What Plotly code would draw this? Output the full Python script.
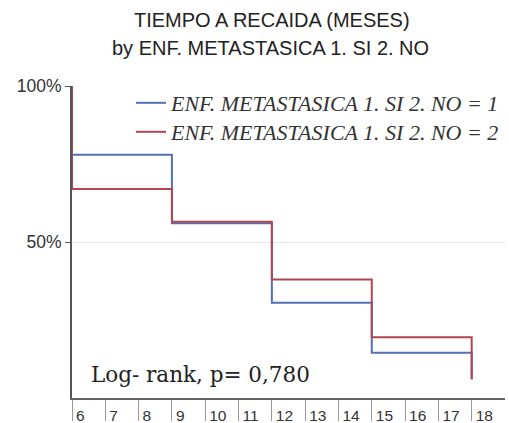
import plotly.graph_objects as go

months = [6, 9, 12, 15, 18]
surv_1 = [78, 56, 30.5, 14.5, 6]   # ENF = 1 (blue)
surv_2 = [67, 56.5, 38, 19.5, 6]   # ENF = 2 (red)
xtick_vals = list(range(6, 19))
xtick_text = [str(v) for v in xtick_vals]
ytick_vals = [50, 100]
ytick_text = ["50%", "100%"]
legend_names = ["ENF. METASTASICA 1. SI 2. NO = 1", "ENF. METASTASICA 1. SI 2. NO = 2"]
colors = ["#5270b2", "#b04650"]
title_1 = "TIEMPO A RECAIDA (MESES)"
title_2 = "by ENF. METASTASICA 1. SI 2. NO"
logrank = "Log- rank, p= 0,780"

def step(vals):
    xs = [months[0]]
    ys = [100]
    prev = 100
    for i, m in enumerate(months):
        xs += [m, m]
        ys += [prev, vals[i]]
        prev = vals[i]
    return xs, ys

fig = go.Figure()
for k, (vals, name, col) in enumerate(zip([surv_1, surv_2], legend_names, colors)):
    xs, ys = step(vals)
    fig.add_trace(go.Scatter(x=xs, y=ys, mode="lines", name=name,
                             legend="legend" if k == 0 else "legend2",
                             line=dict(color=col, width=2)))

# invisible trace for the label axis
fig.add_trace(go.Scatter(x=[6], y=[0], xaxis="x2", mode="markers",
                         marker=dict(opacity=0), showlegend=False, hoverinfo="skip"))

sans = "Liberation Sans, Arial"
leg_font = dict(family="Liberation Serif, Times New Roman", size=22,
                color="#333", style="italic")
fig.update_layout(
    width=509, height=423,
    margin=dict(l=72, r=4, t=86, b=25),
    paper_bgcolor="white", plot_bgcolor="white",
    title=dict(text=title_1, x=0.534, xanchor="center", y=1 - 20 / 423, yref="container",
               yanchor="middle", font=dict(family=sans, size=20, color="#222")),
    xaxis=dict(range=[6, 19], tickvals=xtick_vals, showticklabels=False,
               ticks="outside", ticklen=21, tickcolor="#999", tickwidth=1,
               showgrid=False, zeroline=False, showline=True, automargin=False,
               linecolor="#666", linewidth=2),
    xaxis2=dict(range=[6, 19], overlaying="x", side="bottom", anchor="y",
                tickvals=[v + 0.12 for v in xtick_vals], ticktext=xtick_text,
                ticks="", showgrid=False, zeroline=False, showline=False,
                automargin=False,
                ticklabelposition="outside right", ticklabelstandoff=6,
                tickfont=dict(family=sans, size=15.5, color="#333")),
    yaxis=dict(range=[0, 100], tickvals=ytick_vals, ticktext=ytick_text,
               ticks="outside", ticklen=5, tickcolor="#555", automargin=False,
               showgrid=True, gridcolor="#e6e6e6", gridwidth=1,
               zeroline=False, showline=True, linecolor="#555", linewidth=2,
               tickfont=dict(family=sans, size=17.5, color="#333")),
    legend=dict(x=1.0, xanchor="right", y=(398 - 82) / 312, yanchor="top",
                bgcolor="rgba(0,0,0,0)", font=leg_font),
    legend2=dict(x=1.0, xanchor="right", y=(398 - 111) / 312, yanchor="top",
                 bgcolor="rgba(0,0,0,0)", font=leg_font),
    showlegend=True,
)

fig.add_annotation(text=title_2, xref="paper", yref="paper", x=(270 - 72) / 433,
                   y=(398 - 48) / 312, showarrow=False, xanchor="center", yanchor="middle",
                   font=dict(family=sans, size=20, color="#222"))

fig.add_annotation(text=logrank, xref="x", yref="y",
                   x=6.5, y=7.5, xanchor="left", yanchor="middle", showarrow=False,
                   font=dict(family="DejaVu Serif", size=21.5, color="#222"))

fig.write_html("out.html", config={"displayModeBar": False},
               post_script="document.body.style.margin='0';")
